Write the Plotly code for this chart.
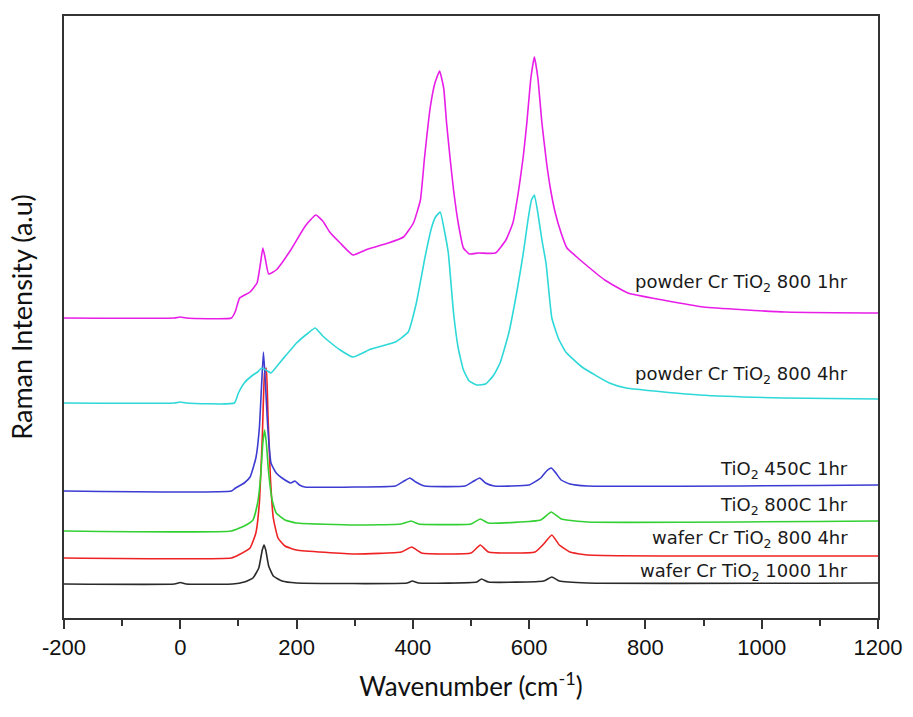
import plotly.graph_objects as go

# Raman spectra, already stacked with their vertical offsets (arbitrary units)
wn_powder_1hr = [-200, -10, 0, 10, 88, 95, 102, 120, 132, 138, 142, 146, 152, 165, 190, 215, 233, 245, 257,
                 275, 297, 323, 358, 384, 401, 413, 420, 430, 438, 446, 453, 458, 464, 470, 478, 487, 497,
                 513, 542, 560, 572, 582, 590, 596, 603, 609, 615, 622, 630, 637, 645, 655, 665, 680, 700,
                 730, 770, 830, 900, 1040, 1200]
int_powder_1hr = [300, 300, 301, 300, 300, 307, 320, 326, 335, 355, 370, 360, 344, 348, 368, 392, 403, 397, 386,
                  375, 363, 369, 375, 381, 395, 418, 460, 511, 535, 547, 530, 495, 460, 428, 395, 370, 364,
                  365, 365, 378, 395, 428, 462, 495, 540, 561, 540, 495, 455, 428, 405, 385, 370, 362, 352,
                  338, 325, 318, 311, 306, 305]

wn_powder_4hr = [-200, -10, 0, 10, 93, 100, 110, 125, 133, 140, 150, 156, 175, 200, 220, 232, 245, 257, 275,
                 297, 328, 370, 392, 406, 421, 432, 439, 447, 455, 461, 470, 478, 487, 497, 510, 525, 538,
                 550, 565, 580, 590, 598, 604, 609, 615, 622, 629, 639, 650, 663, 691, 738, 767, 893,
                 1036, 1200]
int_powder_4hr = [215, 215, 216, 215, 215, 225, 235, 243, 246, 250, 247, 245, 258, 275, 285, 290, 282, 276, 268,
                  261, 269, 276, 286, 315, 361, 390, 401, 406, 385, 365, 305, 270, 248, 237, 233, 234, 242,
                  255, 285, 330, 365, 398, 418, 423, 405, 378, 355, 300, 280, 266, 251, 235, 230, 223,
                  220, 219]

wn_tio2_450 = [-200, 88, 95, 110, 120, 130, 136, 140, 143, 146, 150, 156, 165, 175, 190, 197, 205, 214, 300,
               370, 385, 395, 405, 420, 490, 505, 515, 525, 540, 600, 620, 630, 638, 646, 655, 670, 700, 1200]
int_tio2_450 = [127, 127, 130, 135, 141, 160, 190, 235, 266, 240, 195, 155, 145, 140, 135, 137, 133, 131, 131,
                132, 137, 140, 136, 132, 132, 137, 140, 135, 132, 133, 140, 147, 150, 145, 138, 134, 132, 133]

wn_tio2_800 = [-200, 88, 110, 125, 133, 138, 142, 145, 148, 152, 158, 165, 180, 200, 300, 380, 397, 410, 500,
               516, 530, 620, 638, 655, 700, 1200]
int_tio2_800 = [87, 87, 92, 98, 115, 140, 175, 188, 175, 145, 118, 105, 98, 95, 93, 94, 97, 94, 94,
                99, 95, 98, 106, 99, 96, 97]

wn_wafer_800 = [-200, 88, 100, 120, 130, 136, 141, 145, 148, 151, 155, 160, 168, 180, 200, 300, 380, 398, 415,
                500, 516, 530, 610, 625, 639, 652, 670, 700, 1200]
int_wafer_800 = [60, 60, 63, 70, 85, 115, 180, 245, 250, 200, 140, 100, 80, 72, 68, 64, 66, 71, 65,
                 65, 73, 66, 66, 74, 83, 73, 66, 63, 62]

wn_wafer_1000 = [-200, -10, 0, 10, 90, 110, 125, 135, 141, 144, 147, 152, 160, 175, 200, 390, 399, 410, 510,
                 518, 530, 625, 639, 652, 700, 1200]
int_wafer_1000 = [34, 34, 35.5, 34, 34, 36, 40, 50, 68, 73, 68, 52, 42, 37, 35, 35, 37, 35, 36,
                  39, 36, 37, 41, 37, 35, 35]

series_names = ["powder Cr TiO<sub>2</sub> 800 1hr", "powder Cr TiO<sub>2</sub> 800 4hr",
                "TiO<sub>2</sub> 450C 1hr", "TiO<sub>2</sub> 800C 1hr",
                "wafer Cr TiO<sub>2</sub> 800 4hr", "wafer Cr TiO<sub>2</sub> 1000 1hr"]
series_colors = ["#E81EE8", "#2ED8D8", "#3C3CD2", "#33D033", "#EE2222", "#2A2A2A"]
label_y = [335, 243, 148, 112, 79, 46]

x_tickvals = [-200, 0, 200, 400, 600, 800, 1000, 1200]
x_ticktext = ["-200", "0", "200", "400", "600", "800", "1000", "1200"]

series = [
    (wn_powder_1hr, int_powder_1hr),
    (wn_powder_4hr, int_powder_4hr),
    (wn_tio2_450, int_tio2_450),
    (wn_tio2_800, int_tio2_800),
    (wn_wafer_800, int_wafer_800),
    (wn_wafer_1000, int_wafer_1000),
]

fig = go.Figure()
# draw bottom curves first so the taller peaks stay visible
for (wn, inten), name, color in reversed(list(zip(series, series_names, series_colors))):
    fig.add_trace(go.Scatter(x=wn, y=inten, mode="lines", name=name,
                             line=dict(color=color, width=1.6, shape="spline", smoothing=0.4),
                             showlegend=False))

for name, ly in zip(series_names, label_y):
    fig.add_annotation(x=1152, y=ly, xref="x", yref="y", text=name, showarrow=False,
                       xanchor="right", yanchor="middle",
                       font=dict(family="DejaVu Sans", size=18, color="#1a1a1a"))

fig.update_layout(
    width=913, height=717,
    margin=dict(l=64, r=35, t=16, b=99),
    plot_bgcolor="white", paper_bgcolor="white",
    xaxis=dict(
        range=[-200, 1200], tickmode="array", tickvals=x_tickvals, ticktext=x_ticktext,
        ticks="outside", ticklen=9, tickwidth=2, tickcolor="#333",
        minor=dict(dtick=100, ticks="outside", ticklen=6, tickwidth=2, tickcolor="#333"),
        showline=True, linecolor="#333", linewidth=2, mirror=True,
        showgrid=False, zeroline=False,
        tickfont=dict(family="Liberation Sans", size=22, color="#111"),
        title=dict(text="Wavenumber (cm<sup>-1</sup>)", standoff=18,
                   font=dict(family="Lato", size=26, color="#111")),
    ),
    yaxis=dict(
        range=[0, 602], showticklabels=False, ticks="",
        showline=True, linecolor="#333", linewidth=2, mirror=True,
        showgrid=False, zeroline=False,
        title=dict(text="Raman Intensity (a.u)", standoff=22,
                   font=dict(family="Lato", size=27, color="#111")),
    ),
)

fig.write_html("out.html")
